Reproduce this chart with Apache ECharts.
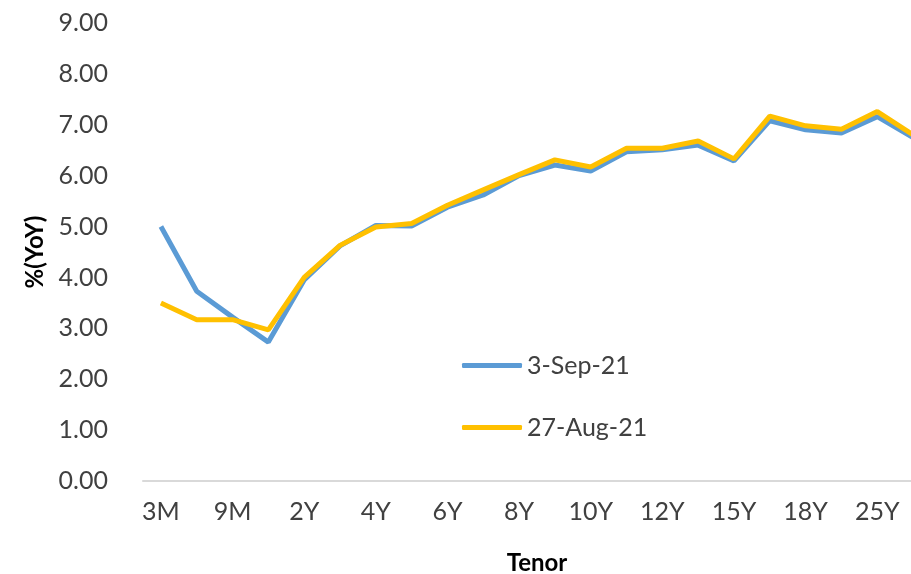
<!DOCTYPE html>
<html>
<head>
<meta charset="utf-8">
<script src="https://cdn.jsdelivr.net/npm/echarts@6/dist/echarts.min.js"></script>
<style>
  html, body { margin: 0; padding: 0; background: #fff; }
  #chart { width: 911px; height: 574px; }
</style>
</head>
<body>
<div id="chart"></div>
<script>
  const tenors = ['3M', '6M', '9M', '1Y', '2Y', '3Y', '4Y', '5Y', '6Y', '7Y', '8Y', '9Y',
    '10Y', '11Y', '12Y', '13Y', '15Y', '16Y', '18Y', '20Y', '25Y', '30Y']
  const sep3 = [5.00, 3.73, 3.22, 2.73, 3.95, 4.62, 5.02, 5.01, 5.38, 5.62, 6.00, 6.21,
    6.09, 6.47, 6.51, 6.60, 6.29, 7.08, 6.90, 6.84, 7.16, 6.75]
  const aug27 = [3.50, 3.17, 3.17, 2.97, 4.00, 4.63, 4.99, 5.06, 5.42, 5.72, 6.02, 6.31,
    6.17, 6.54, 6.54, 6.68, 6.33, 7.17, 6.98, 6.91, 7.26, 6.80]

  const font = 'Lato, "Open Sans", sans-serif'
  const grey = '#404040'

  let chart = echarts.init(document.getElementById('chart'))
  let option = {
    animation: false,
    textStyle: {fontFamily: font},
    grid: {left: 143, right: -20, top: 23, bottom: 93, outerBoundsMode: 'none'},
    legend: {
      orient: 'vertical',
      left: 457,
      top: 348,
      icon: 'roundRect',
      itemWidth: 60,
      itemHeight: 5,
      itemGap: 37,
      textStyle: {fontSize: 25, lineHeight: 25, color: grey, fontFamily: font},
      data: ['3-Sep-21', '27-Aug-21']
    },
    xAxis: {
      type: 'category',
      data: tenors,
      name: 'Tenor',
      nameLocation: 'middle',
      nameGap: 70,
      nameTextStyle: {fontSize: 24, fontWeight: 'bold', color: '#000'},
      axisLine: {lineStyle: {color: '#d9d9d9', width: 2}},
      axisTick: {interval: 1, length: 9, lineStyle: {color: '#d9d9d9', width: 2}},
      axisLabel: {interval: 1, margin: 18, fontSize: 25, color: grey}
    },
    yAxis: {
      type: 'value',
      min: 0,
      max: 9,
      interval: 1,
      name: '%(YoY)',
      nameLocation: 'middle',
      nameGap: 96,
      nameTextStyle: {fontSize: 24, fontWeight: 'bold', color: '#000'},
      axisLine: {show: false},
      axisTick: {show: false},
      splitLine: {show: false},
      axisLabel: {margin: 35, fontSize: 25, color: grey, formatter: v => v.toFixed(2)}
    },
    series: [
      {
        name: '3-Sep-21',
        type: 'line',
        data: sep3,
        symbol: 'none',
        lineStyle: {color: '#5b9bd5', width: 5},
        itemStyle: {color: '#5b9bd5'}
      },
      {
        name: '27-Aug-21',
        type: 'line',
        data: aug27,
        symbol: 'none',
        lineStyle: {color: '#ffc000', width: 5},
        itemStyle: {color: '#ffc000'}
      }
    ]
  }
  chart.setOption(option)
</script>
</body>
</html>
